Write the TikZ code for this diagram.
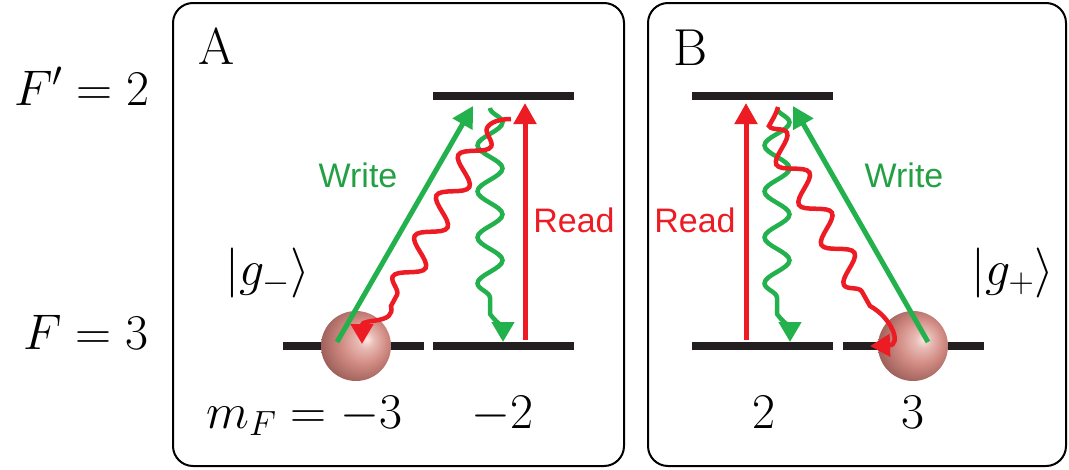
\RequirePackage{fix-cm}
\documentclass[tikz,border=0pt]{standalone}
\usepackage{fontspec}
\newfontfamily\labfont{Liberation Sans}
\usetikzlibrary{arrows.meta,decorations.pathmorphing}
\definecolor{myred}{HTML}{ED1C24}
\definecolor{mygreen}{HTML}{22B14C}
\definecolor{mygreentext}{HTML}{24A044}
\definecolor{lvlblack}{HTML}{231F20}
\definecolor{ballhi}{HTML}{FDE8E4}
\definecolor{ballmid}{HTML}{D28C84}
\definecolor{balldark}{HTML}{9A5C57}
\pgfdeclareradialshading{atomball}{\pgfpoint{8bp}{5bp}}{color(0bp)=(ballhi); color(6bp)=(ballhi!50!ballmid); color(16bp)=(ballmid); color(30bp)=(balldark); color(50bp)=(balldark)}
\begin{document}
\begin{tikzpicture}[x=1pt,y=-1pt,
  panel/.style={draw=black, line width=2pt, rounded corners=20pt},
  level/.style={rectangle, fill=lvlblack, minimum height=7.5pt, inner sep=0pt, minimum width=141pt},
  atom/.style={circle, minimum size=70pt, inner sep=0pt, shade, shading=atomball},
  beam/.style={line width=5pt, -{Triangle[length=21pt,width=22pt]}},
  wave/.style={line width=4.5pt, -{Triangle[length=20pt,width=22pt]}, decoration={snake, segment length=46pt, amplitude=12.5pt}},
  mathlab/.style={inner sep=0pt, font=\fontsize{50}{60}\selectfont},
  letter/.style={inner sep=0pt, font=\fontsize{52}{62}\selectfont},
  sanslab/.style={inner sep=0pt, font=\labfont\fontsize{34}{40}\selectfont},
]
\useasboundingbox (0,0) rectangle (1069,469);

% panels
\draw[panel] (173,3) rectangle (624,466);
\draw[panel] (648,3) rectangle (1066,466);

% levels
\node[level] (upA) at (503.5,96) {};
\node[level] (loA1) at (353.5,346) {};
\node[level] (loA2) at (503.5,346) {};
\node[level] (upB) at (762.5,96) {};
\node[level] (loB1) at (762.5,346) {};
\node[level] (loB2) at (913,346) {};

% atoms
\node[atom] (ballA) at (356,346) {};
\node[atom] (ballB) at (913,346) {};

% coordinates panel A
\coordinate (wA0) at (337,342);
\coordinate (wA1) at (473,106);
\coordinate (rdA0) at (525,340);
\coordinate (rdA1) at (525,103);
\coordinate (gA0) at (490,108);
\coordinate (gA1) at (490,314);
\coordinate (gA2) at (503,342);
\coordinate (rA0) at (511,119);
\coordinate (rA1) at (487,128);
\coordinate (rA2) at (391,306);
\coordinate (rA3) at (362,344);

% coordinates panel B
\coordinate (wB0) at (928,342);
\coordinate (wB1) at (793,106);
\coordinate (rdB0) at (746,340);
\coordinate (rdB1) at (746,103);
\coordinate (gB0) at (777,108);
\coordinate (gB1) at (777,314);
\coordinate (gB2) at (790,342);
\coordinate (rB0) at (778,107);
\coordinate (rB1) at (769,126);
\coordinate (rB2) at (870,306);
\coordinate (rB3) at (870,346);

% green waves
\draw[wave, mygreen] (gA0) decorate {-- (gA1)} .. controls (496,322) and (503,328) .. (gA2);
\draw[wave, mygreen] (gB0) decorate {-- (gB1)} .. controls (783,322) and (790,328) .. (gB2);

% write beams
\draw[beam, mygreen] (wA0) -- (wA1);
\draw[beam, mygreen] (wB0) -- (wB1);

% read beams
\draw[beam, myred] (rdA0) -- (rdA1);
\draw[beam, myred] (rdB0) -- (rdB1);

% red waves
\draw[wave, myred] (rA0) .. controls (500,119) and (490,122) .. (rA1) decorate {-- (rA2)} .. controls (396,325) and (362,318) .. (rA3);
\draw[wave, myred] (rB0) .. controls (776,115) and (772,120) .. (rB1) decorate {-- (rB2)} .. controls (892,318) and (902,345) .. (rB3);

% labels
\node[mathlab, anchor=base east] (Fu) at (150,105) {$F'=2$};
\node[mathlab, anchor=base east] (Fl) at (149,349) {$F=3$};
\node[letter, anchor=base] (labA) at (217,64) {A};
\node[letter, anchor=base] (labB) at (690,65) {B};
\node[mathlab, anchor=base west] (gm) at (225,285) {$|g_-\rangle$};
\node[mathlab, anchor=base west] (gp) at (971,285) {$|g_+\rangle$};
\node[mathlab, anchor=base west] (mF) at (206,428) {$m_F=-3$};
\node[mathlab, anchor=base west] (m2) at (471,428) {$-2$};
\node[mathlab, anchor=base] (p2) at (764,428) {$2$};
\node[mathlab, anchor=base] (p3) at (913,428) {$3$};
\node[sanslab, anchor=base, text=mygreentext] (wtA) at (358,187) {Write};
\node[sanslab, anchor=base, text=myred] (rtA) at (574,232) {Read};
\node[sanslab, anchor=base, text=mygreentext] (wtB) at (904,187) {Write};
\node[sanslab, anchor=base, text=myred] (rtB) at (695,232) {Read};
\end{tikzpicture}
\end{document}
